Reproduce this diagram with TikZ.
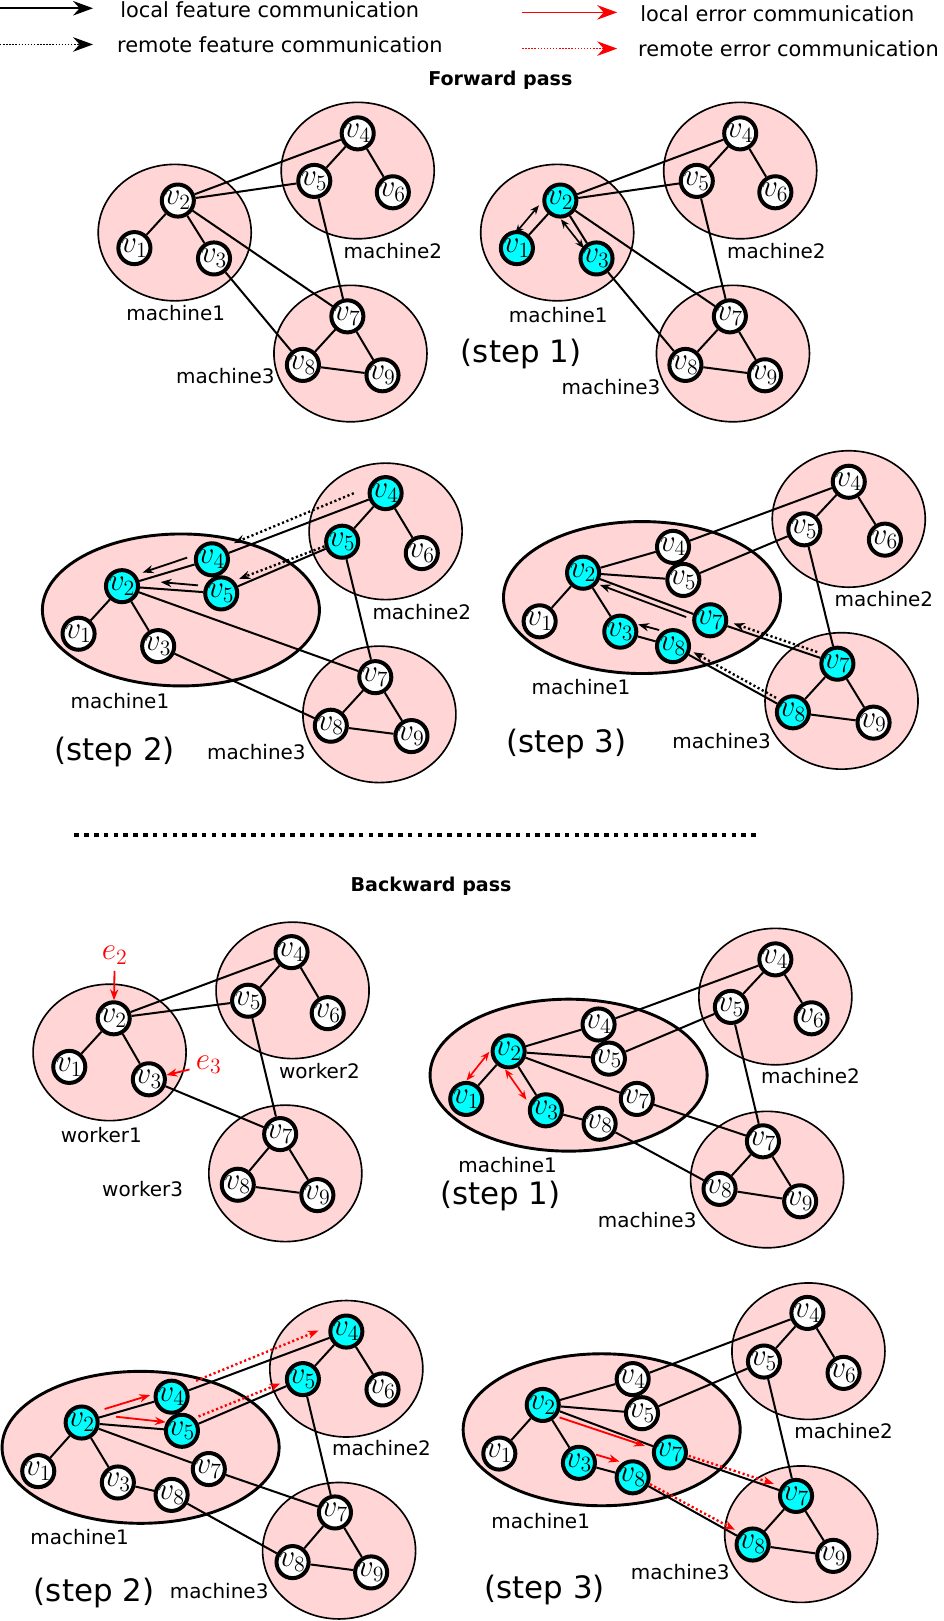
\documentclass[tikz,border=0pt]{standalone}
\usepackage{fontspec}
\newfontfamily\labelfont{DejaVu Sans}
\usetikzlibrary{
  shapes,
  calc,
  arrows.meta,
  positioning
}
\definecolor{machinefill}{RGB}{255,213,213}
\definecolor{active}{RGB}{0,255,255}
\definecolor{errred}{RGB}{255,0,0}

% vertices and links of one panel: prefix, list
\newcommand{\vtxs}[2]{\foreach \n/\lab/\x/\y/\col in {#2} \node[vtx, fill=\col] (#1\n) at (\x,\y) {$v_{\lab}$};}
\newcommand{\links}[2]{\foreach \p/\q in {#2} \draw[link] (#1\p) -- (#1\q);}
% arrow beside the link #2--#3, shifted to the right of its way by #4 and #5
\newcommand{\pass}[5][]{\draw[#1] ($(#2)!#4!-90:(#3)$) -- ($(#3)!#5!90:(#2)$);}

\begin{document}
\begin{tikzpicture}[x=0.02cm, y=-0.02cm,
  vtx/.style={circle, draw, line width=2.2pt, inner sep=0pt, minimum size=16.6pt, font=\fontsize{17.5}{17.5}\selectfont},
  machine/.style={draw, line width=0.9pt, fill=machinefill},
  bigmachine/.style={machine, line width=1.6pt},
  link/.style={line width=1.1pt},
  lbl/.style={font=\labelfont\fontsize{11}{13}\selectfont},
  steplbl/.style={font=\labelfont\fontsize{17}{20}\selectfont},
  passtitle/.style={font=\labelfont\bfseries\fontsize{10.5}{12}\selectfont},
  legendtxt/.style={anchor=west, inner sep=0pt, font=\labelfont\fontsize{11.5}{13}\selectfont},
  errlbl/.style={text=errred, font=\fontsize{17}{17}\selectfont},
  legarrow/.style={line width=0.9pt, -{Stealth[length=11pt, width=8pt]}},
  legdots/.style={legarrow, line width=0.8pt, dash pattern=on 0.8pt off 0.9pt},
  feat/.style={line width=1pt, -{Stealth[length=6pt, width=4.5pt]}},
  remote/.style={feat, line width=1.3pt, dash pattern=on 1.2pt off 1.4pt},
  twoway/.style={line width=0.9pt, {Stealth[length=5pt, width=4pt]}-{Stealth[length=5pt, width=4pt]}},
  err/.style={feat, errred},
  errremote/.style={remote, errred},
  sh/.style 2 args={shorten <=#1, shorten >=#2},
  sepline/.style={line width=2.3pt, dash pattern=on 2.5pt off 2.9pt}
]
\useasboundingbox (0,0) rectangle (913,1568);

% legend
\coordinate (lf) at (0,8);
\coordinate (rf) at (0,43);
\coordinate (le) at (505,12);
\coordinate (re) at (505,47);
\draw[legarrow] (lf) -- ++(90,0);
\draw[legdots] (rf) -- ++(90,0);
\draw[legarrow, errred] (le) -- ++(92,0);
\draw[legdots, errred] (re) -- ++(92,0);
\node[legendtxt] (lft) at (116,9) {local feature communication};
\node[legendtxt] (rft) at (113,43) {remote feature communication};
\node[legendtxt] (let) at (619,13) {local error communication};
\node[legendtxt] (ret) at (617,47) {remote error communication};

% forward pass
\node[passtitle] (fwd) at (484,78) {Forward pass};
\foreach \x/\y in {169/225, 346/165, 339/342, 539/225, 716/165, 709/342, 373/514, 367/691, 821/502, 814/678}
  \draw[machine] (\x,\y) ellipse [x radius=74, y radius=66];
\foreach \x/\y in {175/590, 621/578}
  \draw[bigmachine] (\x,\y) ellipse [x radius=134, y radius=73.5];

\vtxs{a}{1/1/130/240/white, 2/2/172/194/white, 3/3/207/250/white, 4/4/346/129/white, 5/5/304/175/white, 6/6/380/186/white, 7/7/336/306/white, 8/8/293/353/white, 9/9/370/363/white}
\links{a}{2/1, 2/3, 2/4, 2/5, 2/7, 3/8, 4/5, 4/6, 5/7, 7/8, 7/9, 8/9}
\node[lbl] (am1) at (170,303) {machine1};
\node[lbl] (am2) at (380,243) {machine2};
\node[lbl] (am3) at (218,364) {machine3};

% step 1
\vtxs{b}{1/1/500/240/active, 2/2/542/194/active, 3/3/577/250/active, 4/4/716/129/white, 5/5/674/175/white, 6/6/750/186/white, 7/7/706/306/white, 8/8/663/353/white, 9/9/740/363/white}
\links{b}{2/1, 2/3, 2/4, 2/5, 2/7, 3/8, 4/5, 4/6, 5/7, 7/8, 7/9, 8/9}
\pass[twoway, sh={9.9pt}{5.2pt}]{b2}{b1}{7.3pt}{5.9pt}
\pass[twoway, sh={9pt}{8.5pt}]{b2}{b3}{6.2pt}{2pt}
\node[lbl] (bm1) at (540,305) {machine1};
\node[lbl] (bm2) at (751,243) {machine2};
\node[lbl] (bm3) at (591,374) {machine3};
\node[steplbl] (bstep) at (504,342) {(step 1)};

% step 2
\vtxs{c}{1/1/76/613/white, 2/2/118/567/active, 3/3/153/625/white, r4/4/205/541/active, r5/5/214/574/active, 4/4/373/477/active, 5/5/331/524/active, 6/6/408/535/white, 7/7/363/655/white, 8/8/320/702/white, 9/9/398/712/white}
\links{c}{2/1, 2/3, 2/r4, 2/r5, 2/7, 3/8, r4/4, r5/5, 4/5, 4/6, 5/7, 7/8, 7/9, 8/9}
\pass[feat, sh={12.8pt}{13pt}]{cr4}{c2}{5.2pt}{3.5pt}
\pass[feat, sh={13.1pt}{21.1pt}]{cr5}{c2}{3.3pt}{4.1pt}
\pass[remote, sh={16.4pt}{14.5pt}]{c4}{cr4}{6.7pt}{3.6pt}
\pass[remote, sh={10pt}{12.3pt}]{c5}{cr5}{1.1pt}{4pt}
\node[lbl] (cm1) at (116,678) {machine1};
\node[lbl] (cm2) at (408,592) {machine2};
\node[lbl] (cm3) at (248,727) {machine3};
\node[steplbl] (cstep) at (111,727) {(step 2)};

% step 3
\vtxs{d}{1/1/522/601/white, 2/2/564/554/active, 3/3/600/611/active, r4/4/651/529/white, r5/5/661/561/white, r7/7/687/600/active, r8/8/651/625/active, 4/4/821/466/white, 5/5/778/512/white, 6/6/856/522/white, 7/7/810/642/active, 8/8/767/689/active, 9/9/845/699/white}
\links{d}{2/1, 2/3, 2/r4, 2/r5, 2/r7, 3/r8, r4/4, r5/5, r7/7, r8/8, 4/5, 4/6, 5/7, 7/8, 7/9, 8/9}
\pass[feat, sh={13pt}{10.9pt}]{dr7}{d2}{-3pt}{-3pt}
\pass[feat, sh={9.7pt}{8.4pt}]{dr8}{d3}{6.6pt}{6.4pt}
\pass[remote, sh={12.6pt}{12.8pt}]{d7}{dr7}{2.5pt}{2.5pt}
\pass[remote, sh={12pt}{11.5pt}]{d8}{dr8}{2.5pt}{2.5pt}
\node[lbl] (dm1) at (562,665) {machine1};
\node[lbl] (dm2) at (855,579) {machine2};
\node[lbl] (dm3) at (698,717) {machine3};
\node[steplbl] (dstep) at (548,720) {(step 3)};

\draw[sepline] (72,808) -- (733,808);

% backward pass
\node[passtitle] (bwd) at (417,857) {Backward pass};
\foreach \x/\y in {106/1018, 283/958, 276/1135, 750/964, 742/1141, 335/1324, 328/1500, 782/1307, 775/1484}
  \draw[machine] (\x,\y) ellipse [x radius=74, y radius=66];
\foreach \x/\y in {550/1040, 136/1400, 582/1383}
  \draw[bigmachine] (\x,\y) ellipse [x radius=134, y radius=73.5];

\vtxs{e}{1/1/67/1032/white, 2/2/110/985/white, 3/3/144/1044/white, 4/4/282/921/white, 5/5/240/968/white, 6/6/317/980/white, 7/7/271/1097/white, 8/8/230/1146/white, 9/9/307/1156/white}
\links{e}{2/1, 2/3, 2/4, 2/5, 3/7, 4/5, 4/6, 5/7, 7/8, 7/9, 8/9}
\node[errlbl] (err2) at (111,924) {$e_2$};
\node[errlbl] (err3) at (202,1030) {$e_3$};
\draw[err] (err2) -- (e2);
\draw[err] (err3) -- (e3);
\node[lbl] (em1) at (98,1098) {worker1};
\node[lbl] (em2) at (309,1036) {worker2};
\node[lbl] (em3) at (138,1150) {worker3};

% step 1
\vtxs{f}{1/1/451/1063/active, 2/2/492/1017/active, 3/3/528/1074/active, r4/4/579/991/white, r5/5/589/1024/white, r7/7/616/1063/white, r8/8/580/1087/white, 4/4/750/928/white, 5/5/707/974/white, 6/6/785/985/white, 7/7/738/1104/white, 8/8/696/1150/white, 9/9/774/1162/white}
\links{f}{2/1, 2/3, 2/r4, 2/r5, 2/r7, 3/r8, r4/4, r5/5, r7/7, r8/8, 4/5, 4/6, 5/7, 7/8, 7/9, 8/9}
\pass[twoway, errred, sh={7.3pt}{7.7pt}]{f2}{f1}{8.2pt}{6.2pt}
\pass[twoway, errred, sh={7.3pt}{10.7pt}]{f2}{f3}{7.3pt}{5.4pt}
\node[lbl] (fm1) at (491,1127) {machine1};
\node[lbl] (fm2) at (784,1041) {machine2};
\node[lbl] (fm3) at (626,1180) {machine3};
\node[steplbl] (fstep) at (484,1157) {(step 1)};

% step 2
\vtxs{g}{1/1/37/1423/white, 2/2/79/1376/active, 3/3/114/1434/white, r4/4/166/1351/active, r5/5/176/1384/active, r7/7/202/1421/white, r8/8/166/1446/white, 4/4/335/1288/active, 5/5/293/1334/active, 6/6/370/1344/white, 7/7/324/1463/white, 8/8/283/1511/white, 9/9/359/1521/white}
\links{g}{2/1, 2/3, 2/r4, 2/r5, 2/r7, 3/r8, r4/4, r5/5, r7/7, r8/8, 4/5, 4/6, 5/7, 7/8, 7/9, 8/9}
\pass[err, sh={14.2pt}{11.1pt}]{g2}{gr4}{-3.4pt}{-4.3pt}
\pass[err, sh={18.6pt}{9.3pt}]{g2}{gr5}{-5.2pt}{-3.8pt}
\pass[errremote, sh={15.7pt}{14.2pt}]{gr4}{g4}{-3pt}{-6.3pt}
\pass[errremote, sh={11.5pt}{12.5pt}]{gr5}{g5}{-3.9pt}{-2.4pt}
\node[lbl] (gm1) at (77,1487) {machine1};
\node[lbl] (gm2) at (369,1401) {machine2};
\node[lbl] (gm3) at (212,1539) {machine3};
\node[steplbl] (gstep) at (91,1541) {(step 2)};

% step 3
\vtxs{h}{1/1/483/1406/white, 2/2/525/1359/active, 3/3/560/1415/active, r4/4/612/1334/white, r5/5/621/1367/white, r7/7/648/1405/active, r8/8/612/1429/active, 4/4/781/1270/white, 5/5/739/1317/white, 6/6/816/1328/white, 7/7/770/1447/active, 8/8/728/1494/active, 9/9/806/1505/white}
\links{h}{2/1, 2/3, 2/r4, 2/r5, 2/r7, 3/r8, r4/4, r5/5, r7/7, r8/8, 4/5, 4/6, 5/7, 7/8, 7/9, 8/9}
\pass[err, sh={11.1pt}{14.2pt}]{h2}{hr7}{3.6pt}{0.9pt}
\pass[err, sh={7.9pt}{9.3pt}]{h3}{hr8}{-7pt}{-6.3pt}
\pass[errremote, sh={10.4pt}{13.8pt}]{hr7}{h7}{-1.5pt}{-2.5pt}
\pass[errremote, sh={10.2pt}{12.5pt}]{hr8}{h8}{-1.2pt}{-2.5pt}
\node[lbl] (hm1) at (523,1471) {machine1};
\node[lbl] (hm2) at (816,1384) {machine2};
\node[lbl] (hm3) at (658,1521) {machine3};
\node[steplbl] (hstep) at (527,1538) {(step 3)};
\end{tikzpicture}
\end{document}
